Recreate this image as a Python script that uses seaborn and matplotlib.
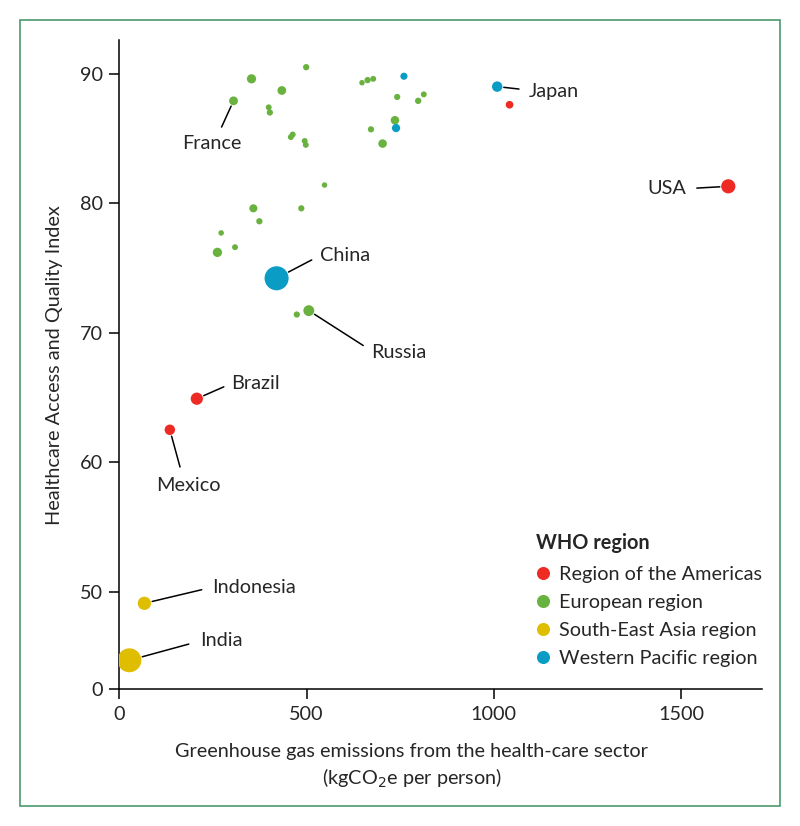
import numpy as np
import pandas as pd
import seaborn as sns
import matplotlib.pyplot as plt
from matplotlib.colors import PowerNorm
from matplotlib.lines import Line2D
from matplotlib.patches import Rectangle

# Values (emissions in kgCO2e per person, HAQ index,
# population in millions, WHO region). Unnamed points have no label.
country = ["USA", "", "Brazil", "Mexico",
           "France", "", "", "", "", "", "", "", "", "", "", "", "", "", "",
           "", "", "", "", "", "", "", "", "", "", "", "Russia", "",
           "Indonesia", "India",
           "China", "Japan", "", ""]
emissions = [1626, 1042, 207, 135,
             305, 353, 499, 434, 399, 402, 458, 463, 495, 498, 648, 663, 678, 742, 798,
             813, 736, 672, 703, 548, 358, 486, 374, 272, 309, 262, 506, 474,
             67, 27,
             420, 1009, 760, 739]
haq = [81.3, 87.6, 64.9, 62.5,
       87.9, 89.6, 90.5, 88.7, 87.4, 87.0, 85.1, 85.3, 84.8, 84.5, 89.3, 89.5, 89.6, 88.2, 87.9,
       88.4, 86.4, 85.7, 84.6, 81.4, 79.6, 79.6, 78.6, 77.7, 76.6, 76.2, 71.7, 71.4,
       49.1, 44.7,
       74.2, 89.0, 89.8, 85.8]
population = [330, 37, 210, 127,
              67, 80, 10, 66, 5, 10, 5, 5, 5, 5, 0.6, 10, 5, 9, 11,
              5, 60, 9, 60, 0.5, 47, 9, 10, 1, 5, 83, 145, 9,
              270, 1380,
              1400, 126, 25, 51]
region = (["Region of the Americas"] * 4 + ["European region"] * 28
          + ["South-East Asia region"] * 2 + ["Western Pacific region"] * 4)

regions = ["Region of the Americas", "European region",
           "South-East Asia region", "Western Pacific region"]
colors = ["#ED2B24", "#6AB23F", "#DFBD00", "#0A9CC4"]

df = pd.DataFrame({"country": country, "emissions": emissions, "haq": haq,
                   "population": population, "region": region})

x_ticks = [0, 500, 1000, 1500]
y_ticks = [42.46, 50, 60, 70, 80, 90]
y_tick_labels = ["0", "50", "60", "70", "80", "90"]

sns.set_style("ticks")
plt.rcParams["font.family"] = ["Lato", "DejaVu Sans"]
fs = 14.3

fig = plt.figure(figsize=(8, 8.26), dpi=100)
ax = fig.add_axes([0.1491, 0.1655, 0.8034, 0.7861])

palette = dict(zip(regions, colors))
size_norm = PowerNorm(gamma=0.8, vmin=0, vmax=1400)
size_range = (15, 300)
sns.scatterplot(data=df, x="emissions", y="haq", hue="region", size="population",
                sizes=size_range, size_norm=size_norm, palette=palette,
                linewidth=0, legend=False, ax=ax, zorder=3)

ax.set_xlim(0, 1716)
ax.set_ylim(42.46, 92.6)
ax.set_xticks(x_ticks)
ax.set_yticks(y_ticks)
ax.set_yticklabels(y_tick_labels)
ax.tick_params(axis="both", labelsize=fs, width=1.1, length=7, color="black", pad=4.5)
ax.tick_params(axis="x", pad=5)
for side in ["top", "right"]:
    ax.spines[side].set_visible(False)
for side in ["left", "bottom"]:
    ax.spines[side].set_linewidth(1.1)
    ax.spines[side].set_color("black")

ax.set_xlabel("Greenhouse gas emissions from the health-care sector\n(kgCO$_2$e per person)",
              fontsize=fs, linespacing=1.38)
ax.xaxis.set_label_coords(0.455, -0.083)
ax.set_ylabel("Healthcare Access and Quality Index", fontsize=fs)
ax.yaxis.set_label_coords(-0.087, 0.5)

# annotation layout: offset (pt), alignment, relpos, gap at text
notes = {
    "France": ((-15.6, -31.0), "center", (0.6, 1.0), 4),
    "China": ((31.2, 16.3), "left", (0.0, 0.5), 4),
    "Russia": ((44.9, -30.0), "left", (0.0, 0.6), 4),
    "Brazil": ((25.0, 11.0), "left", (0.0, 0.5), 3.5),
    "Mexico": ((13.0, -40.1), "center", (0.42, 1.0), 5),
    "Indonesia": ((48.5, 11.5), "left", (0.0, 0.5), 5),
    "India": ((50.9, 13.9), "left", (0.0, 0.5), 6),
    "Japan": ((23.0, -3.8), "left", (0.0, 0.6), 5),
    "USA": ((-30.0, -1.7), "right", (1.0, 0.5), 5),
}
for _, row in df[df["country"] != ""].iterrows():
    offset, ha, relpos, gap = notes[row["country"]]
    s = size_range[0] + (size_range[1] - size_range[0]) * float(size_norm(row["population"]))
    ax.annotate(row["country"], xy=(row["emissions"], row["haq"]), xytext=offset,
                textcoords="offset points", ha=ha, va="center", fontsize=fs,
                arrowprops=dict(arrowstyle="-", color="black", lw=1.1, relpos=relpos,
                                shrinkA=gap, shrinkB=np.sqrt(s) / 2 + 1))

handles = [Line2D([], [], marker="o", linestyle="", markersize=9.4,
                  markerfacecolor=c, markeredgewidth=0) for c in colors]
leg = ax.legend(handles, regions, title="WHO region", loc="upper left",
                bbox_to_anchor=(0.648, 0.24), frameon=False, fontsize=fs,
                title_fontproperties={"weight": "bold", "size": fs},
                handlelength=0.7, handletextpad=0.45, labelspacing=0.56,
                borderpad=0, borderaxespad=0, alignment="left")
leg._legend_box.sep = 9

fig.patches.append(Rectangle((0.025, 0.0242), 0.95, 0.9516, transform=fig.transFigure,
                             fill=False, edgecolor="#4C9A6C", linewidth=1.2))

fig.savefig("out.png", dpi=100)
